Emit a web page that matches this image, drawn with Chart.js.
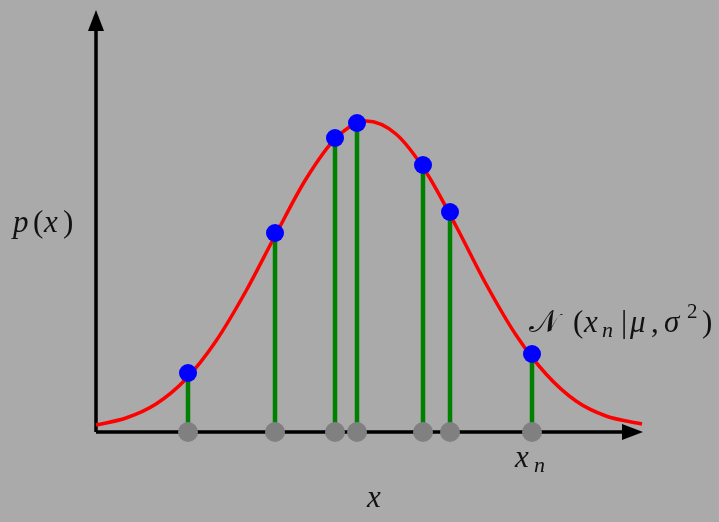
<!DOCTYPE html>
<html>
<head>
<meta charset="utf-8">
<script src="https://cdn.jsdelivr.net/npm/chart.js"></script>
<style>
  body { margin: 0; background: #aaaaaa; }
</style>
</head>
<body>
<canvas id="myChart" width="719" height="522"></canvas>
<script>
// samples x_n and their density values
const sampleX = [92, 179, 239, 261, 327, 354, 436];
const sampleY = [59, 199, 294, 309, 267, 220, 78];

// red density curve, read at regular x positions
const curveX = [0, 30, 60, 90, 120, 150, 180, 210, 240, 270, 300, 330, 360, 390, 420, 450, 480, 510, 546];
const curveY = [7, 14, 28, 53, 91, 141, 198, 253, 294, 311, 298, 260, 206, 148, 97, 58, 31, 16, 8];

const curveData = curveX.map((x, i) => ({x: x, y: curveY[i]}));
const dots = sampleX.map((x, i) => ({x: x, y: sampleY[i]}));
const ground = sampleX.map(x => ({x: x, y: 0}));
const stems = [];
sampleX.forEach((x, i) => {
  stems.push({x: x, y: 0}, {x: x, y: sampleY[i]}, {x: x, y: null});
});

const bg = {
  id: 'bg',
  beforeDraw(chart) {
    const c = chart.ctx;
    c.save();
    c.fillStyle = '#aaaaaa';
    c.fillRect(0, 0, chart.width, chart.height);
    c.restore();
  }
};

// axes with arrow heads, under the marks
const arrows = {
  id: 'arrows',
  beforeDatasetsDraw(chart) {
    const c = chart.ctx;
    const a = chart.chartArea;
    c.save();
    c.strokeStyle = '#000';
    c.fillStyle = '#000';
    c.lineWidth = 3.5;
    c.beginPath();
    c.moveTo(a.left, a.bottom);
    c.lineTo(a.left, a.top + 14);
    c.moveTo(a.left, a.bottom);
    c.lineTo(a.right - 14, a.bottom);
    c.stroke();
    c.beginPath();
    c.moveTo(a.left, a.top);
    c.lineTo(a.left - 8, a.top + 21);
    c.lineTo(a.left + 8, a.top + 21);
    c.closePath();
    c.fill();
    c.beginPath();
    c.moveTo(a.right + 1, a.bottom);
    c.lineTo(a.right - 20, a.bottom - 8);
    c.lineTo(a.right - 20, a.bottom + 8);
    c.closePath();
    c.fill();
    c.restore();
  }
};

// draw [text, font, x, y] pieces
function pieces(c, list) {
  list.forEach(p => {
    c.font = p[1];
    c.fillText(p[0], p[2], p[3]);
  });
}

const labels = {
  id: 'labels',
  afterDraw(chart) {
    const c = chart.ctx;
    const it = 'italic 31px "Liberation Serif"';
    const up = '31px "Liberation Serif"';
    const sub = 'italic 22px "Liberation Serif"';
    c.save();
    c.fillStyle = '#111';
    c.textBaseline = 'alphabetic';
    c.textAlign = 'left';

    pieces(c, [
      ['p', it, 13, 232], ['(', up, 33, 232], ['x', it, 44, 232], [')', up, 63, 232]
    ]);

    pieces(c, [['x', it, 367, 507]]);

    pieces(c, [['x', it, 515, 467], ['n', sub, 534, 472]]);

    pieces(c, [
      ['𝒩', '31px "DejaVu Sans"', 529, 332],
      ['(', up, 573, 332],
      ['x', it, 584, 332],
      ['n', sub, 602, 337],
      ['|', up, 621, 332],
      ['μ', it, 630, 332],
      [',', up, 651, 332],
      ['σ', it, 664, 332],
      ['2', '21px "Liberation Serif"', 687, 318],
      [')', up, 702, 332]
    ]);
    c.restore();
  }
};

new Chart(document.getElementById('myChart'), {
  type: 'scatter',
  data: {
    datasets: [
      {
        data: dots,
        backgroundColor: '#0000ff',
        borderColor: '#0000ff',
        pointRadius: 9,
        borderWidth: 0,
        clip: false,
        order: 0
      },
      {
        data: ground,
        backgroundColor: '#808080',
        borderColor: '#808080',
        pointRadius: 10,
        borderWidth: 0,
        clip: false,
        order: 1
      },
      {
        data: stems,
        showLine: true,
        spanGaps: false,
        borderColor: '#008000',
        borderWidth: 4.5,
        pointRadius: 0,
        clip: false,
        order: 3
      },
      {
        data: curveData,
        showLine: true,
        borderColor: '#ff0000',
        borderWidth: 3.5,
        pointRadius: 0,
        tension: 0.4,
        cubicInterpolationMode: 'monotone',
        clip: false,
        order: 2
      }
    ]
  },
  options: {
    responsive: false,
    animation: false,
    layout: {
      padding: {left: 96, right: 77, top: 10, bottom: 90}
    },
    plugins: {
      legend: {display: false},
      tooltip: {enabled: false}
    },
    scales: {
      x: {type: 'linear', display: false, min: 0, max: 546},
      y: {display: false, min: 0, max: 422}
    }
  },
  plugins: [bg, arrows, labels]
});
</script>
</body>
</html>
